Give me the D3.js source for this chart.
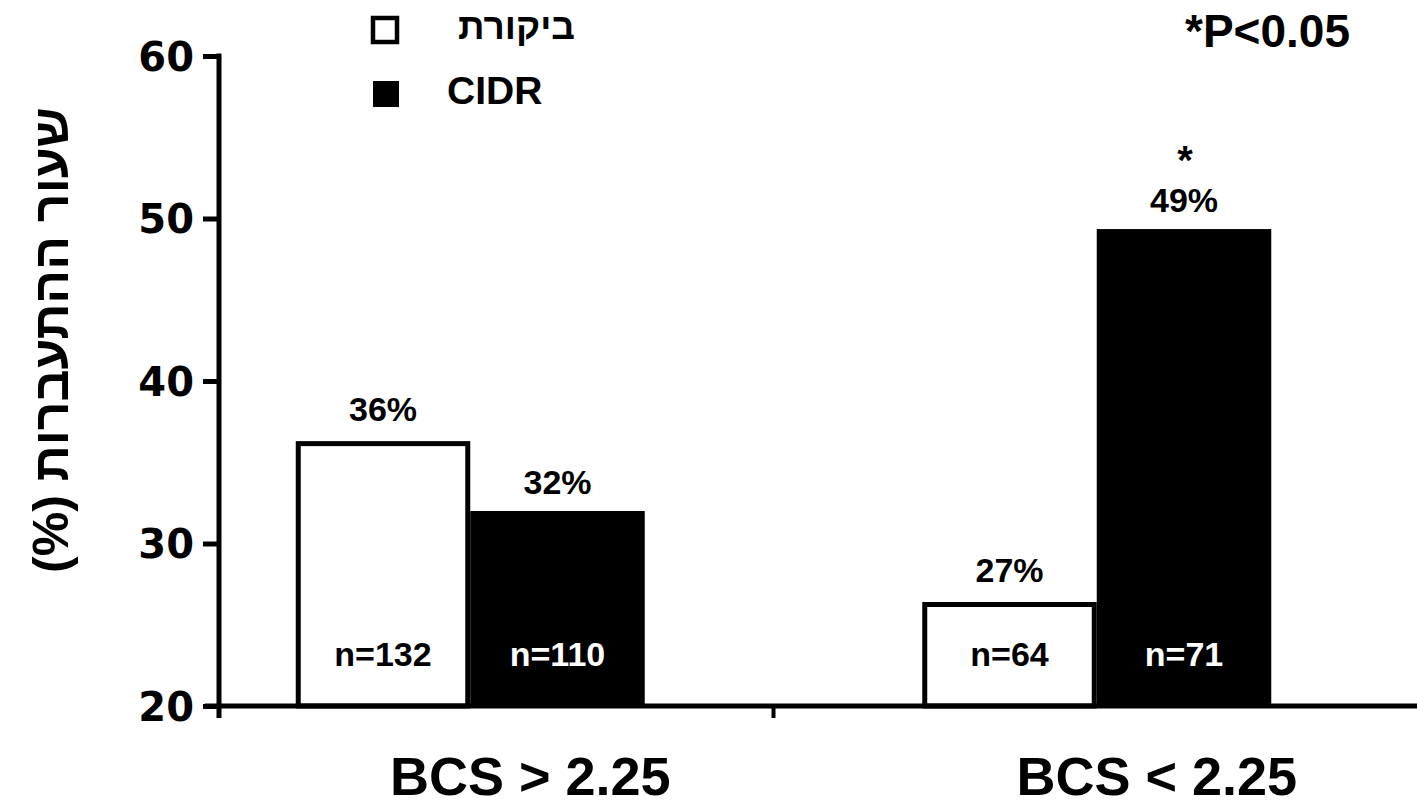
<!DOCTYPE html>
<html><head><meta charset="utf-8">
<script src="https://cdn.jsdelivr.net/npm/d3@7"></script>
<style>
html,body{margin:0;padding:0;background:#fff;}
svg{display:block;}
text{font-family:"Liberation Sans",Arial,sans-serif;font-weight:bold;fill:#000;}
</style></head>
<body>
<svg id="chart" width="1417" height="808"></svg>
<script>
const categories = ["BCS > 2.25", "BCS < 2.25"];
const seriesNames = ["ביקורת", "CIDR"];
const controlValues = [36.3, 26.4];
const cidrValues = [32.0, 49.35];
const controlLabels = ["36%", "27%"];
const cidrLabels = ["32%", "49%"];
const controlN = ["n=132", "n=64"];
const cidrN = ["n=110", "n=71"];
const significant = [false, true];
const yTicks = [20, 30, 40, 50, 60];
const yTitle = "שעור ההתעברות (%)";
const pNote = "*P<0.05";

const svg = d3.select("#chart");
const y = d3.scaleLinear().domain([20, 60]).range([706, 56]);
const x = d3.scaleBand().domain(categories).range([157, 1410]);
const xs = d3.scaleBand().domain(["c", "t"]).range([0, 349]);
const axisX = 219;

// bars
categories.forEach((cat, i) => {
  const c = x(cat) + x.bandwidth() / 2;
  const x0 = c - 174.5;
  const bw = xs.bandwidth();
  const vc = controlValues[i], vt = cidrValues[i];
  svg.append("rect")
    .attr("x", x0 + xs("c") + 2.5).attr("y", y(vc) + 2.5)
    .attr("width", bw - 5).attr("height", y(20) - y(vc) - 2.5)
    .attr("fill", "#fff").attr("stroke", "#000").attr("stroke-width", 5);
  svg.append("rect")
    .attr("x", x0 + xs("t")).attr("y", y(vt))
    .attr("width", bw).attr("height", y(20) - y(vt))
    .attr("fill", "#000");
  svg.append("text").attr("x", x0 + xs("c") + bw / 2).attr("y", y(vc) - 20)
    .attr("text-anchor", "middle").attr("font-size", 34).text(controlLabels[i]);
  svg.append("text").attr("x", x0 + xs("t") + bw / 2).attr("y", y(vt) - 17)
    .attr("text-anchor", "middle").attr("font-size", 34).text(cidrLabels[i]);
  if (significant[i]) {
    svg.append("text").attr("x", x0 + xs("t") + bw / 2 + 1).attr("y", y(vt) - 55)
      .attr("text-anchor", "middle").attr("font-size", 40).text("*");
  }
  svg.append("text").attr("x", x0 + xs("c") + bw / 2).attr("y", 666)
    .attr("text-anchor", "middle").attr("font-size", 34).text(controlN[i]);
  svg.append("text").attr("x", x0 + xs("t") + bw / 2).attr("y", 666)
    .attr("text-anchor", "middle").attr("font-size", 34).style("fill", "#fff").text(cidrN[i]);
  svg.append("text").attr("x", c + 60).attr("y", 795)
    .attr("text-anchor", "middle").attr("font-size", 54).text(cat);
});

// y axis
const yAxis = d3.axisLeft(y).tickValues(yTicks).tickSize(16).tickPadding(9).tickFormat(d3.format("d"));
const gy = svg.append("g").attr("transform", `translate(${axisX},0)`).call(yAxis);
gy.select(".domain").remove();
gy.selectAll(".tick line").attr("stroke", "#000").attr("stroke-width", 5);
gy.selectAll(".tick text").attr("font-size", 40)
  .style("font-family", "'DejaVu Sans', Verdana, sans-serif")
  .style("font-weight", "bold").style("fill", "#000").attr("dy", "0.36em");
svg.append("line").attr("x1", axisX).attr("x2", axisX).attr("y1", y(60) - 2.5).attr("y2", 718)
  .attr("stroke", "#000").attr("stroke-width", 5);

// x axis
svg.append("line").attr("x1", 205).attr("x2", 1417).attr("y1", y(20)).attr("y2", y(20))
  .attr("stroke", "#000").attr("stroke-width", 5);
svg.append("line").attr("x1", x(categories[1]) - 10).attr("x2", x(categories[1]) - 10)
  .attr("y1", y(20)).attr("y2", 718).attr("stroke", "#000").attr("stroke-width", 4);

// y title
svg.append("text").attr("transform", `translate(68,340) rotate(-90)`)
  .attr("text-anchor", "middle").attr("font-size", 50).attr("direction", "rtl").text(yTitle);

// legend
svg.append("rect").attr("x", 373).attr("y", 18).attr("width", 24).attr("height", 24)
  .attr("fill", "#fff").attr("stroke", "#000").attr("stroke-width", 4.5);
svg.append("text").attr("x", 575).attr("y", 39).attr("text-anchor", "end").attr("font-size", 37)
  .text(seriesNames[0]);
svg.append("rect").attr("x", 373).attr("y", 81).attr("width", 26).attr("height", 26).attr("fill", "#000");
svg.append("text").attr("x", 447).attr("y", 104).attr("font-size", 39).text(seriesNames[1]);

// p-value note
svg.append("text").attr("x", 1185).attr("y", 47).attr("font-size", 46).text(pNote);
</script>
</body></html>
